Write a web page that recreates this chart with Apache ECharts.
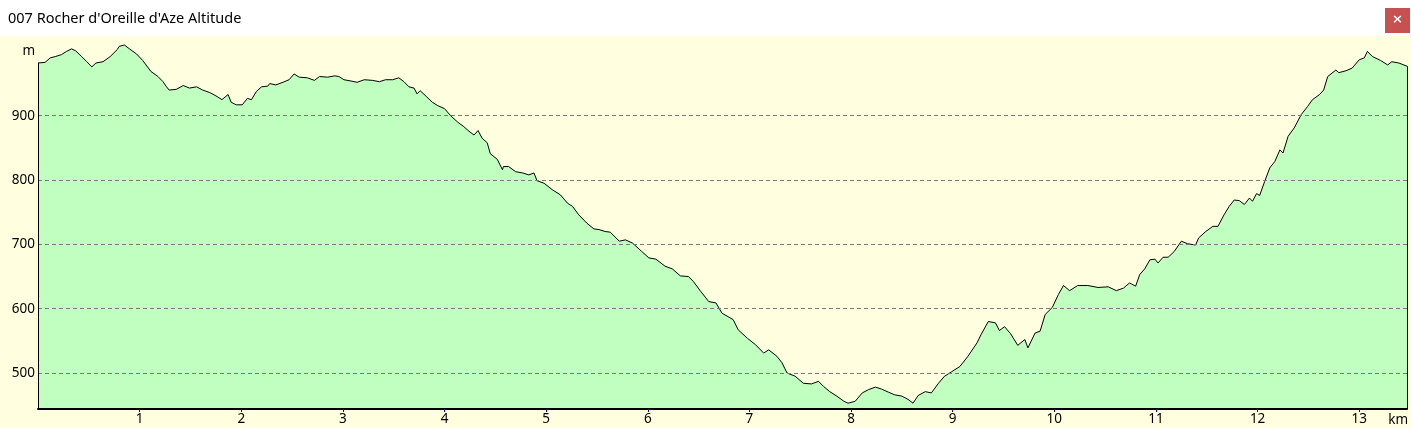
<!DOCTYPE html>
<html>
<head>
<meta charset="utf-8">
<script src="https://cdn.jsdelivr.net/npm/echarts@6/dist/echarts.min.js"></script>
<style>
html,body{margin:0;padding:0;background:#ffffe0;overflow:hidden;}
#c{width:1411px;height:428px;}
</style>
</head>
<body>
<div id="c"></div>
<script>
const titleText = "007 Rocher d'Oreille d'Aze Altitude";
const xUnit = 'km';
const yUnit = 'm';

const distKm = [
  0.00,0.07,0.12,0.17,0.23,0.28,0.33,0.37,0.43,0.48,
  0.53,0.57,0.64,0.71,0.78,0.80,0.85,0.90,0.97,1.03,
  1.11,1.18,1.23,1.26,1.29,1.36,1.43,1.49,1.56,1.62,
  1.69,1.75,1.81,1.87,1.90,1.95,2.01,2.06,2.10,2.15,
  2.20,2.26,2.28,2.34,2.41,2.47,2.52,2.57,2.65,2.72,
  2.77,2.85,2.92,2.96,3.01,3.08,3.14,3.21,3.29,3.36,
  3.42,3.49,3.55,3.60,3.65,3.70,3.73,3.76,3.82,3.88,
  3.93,4.00,4.06,4.13,4.19,4.24,4.29,4.33,4.37,4.42,
  4.45,4.52,4.57,4.58,4.63,4.70,4.77,4.83,4.88,4.91,
  4.98,5.06,5.14,5.21,5.26,5.32,5.40,5.47,5.52,5.58,
  5.63,5.72,5.78,5.85,5.94,6.01,
  6.08,6.17,6.24,6.32,6.40,6.45,6.52,6.60,6.67,6.73,
  6.84,6.89,6.98,7.06,7.14,7.19,7.27,7.32,7.37,7.45,
  7.53,7.61,7.68,7.73,7.79,7.86,7.93,7.97,8.04,8.11,
  8.17,8.24,8.30,8.37,8.43,8.50,8.56,8.61,8.66,8.73,
  8.79,8.86,8.92,8.99,9.07,9.15,9.24,9.28,9.35,9.42,
  9.46,9.51,9.57,9.64,9.71,9.74,9.81,9.86,9.91,9.98,
  10.04,10.09,10.15,10.23,10.33,10.43,10.53,10.61,10.68,10.74,
  10.80,10.84,10.89,10.94,10.99,11.02,11.07,11.12,11.18,11.25,
  11.31,11.39,11.42,11.49,11.56,11.61,11.67,11.72,11.77,11.82,
  11.87,11.92,11.95,11.99,12.02,12.07,12.12,12.17,12.22,12.25,
  12.30,12.36,12.43,12.49,12.54,12.61,12.65,12.69,12.77,12.80,
  12.87,12.93,13.00,13.05,13.08,13.13,13.21,13.28,13.32,13.39,13.47
];

const elevM = [
  982,983,990,992,995,1000,1004,1001,992,984,
  976,982,984,992,1003,1008,1010,1004,996,986,
  969,961,953,946,940,941,947,943,945,940,
  936,931,925,933,921,917,917,927,925,938,
  945,946,950,948,952,956,965,960,959,955,
  961,960,962,961,956,954,952,956,955,953,
  956,956,959,953,945,943,934,939,930,921,
  916,911,900,890,883,876,870,877,865,858,
  841,832,816,821,821,813,811,808,811,799,
  795,785,777,764,759,746,733,724,723,720,
  719,705,707,702,689,679,
  677,666,662,651,650,642,627,611,609,593,
  583,567,554,544,531,536,526,516,500,495,
  484,483,487,479,471,464,456,453,456,469,
  474,478,475,470,466,464,459,453,465,471,
  469,484,495,502,510,526,547,560,580,578,
  566,572,561,543,552,539,562,565,591,602,
  622,636,628,636,636,633,634,628,632,640,
  635,653,662,676,677,671,680,680,689,705,
  701,699,710,720,728,728,746,759,769,768,
  762,772,767,779,776,798,819,829,847,842,
  868,881,902,914,925,933,940,961,971,967,
  970,974,987,990,1000,992,986,979,984,982,977
];

const xTickValues = [1,2,3,4,5,6,7,8,9,10,11,12,13];
const yGridValues = [500,600,700,800,900];
const yLabelValues = [500,600,700,800,900,1000];
const yUnitValue = 1000;

const yMin = 444, yMax = 1024;
const xMin = 0, xMax = 13.47;

const FONT = "'Noto Sans', 'DejaVu Sans', sans-serif";
const points = distKm.map((d, i) => [d, elevM[i]]);
const lastI = distKm.length - 1;

const chart = echarts.init(document.getElementById('c'), null, {renderer: 'canvas'});
chart.setOption({
  animation: false,
  backgroundColor: '#ffffe0',
  textStyle: {fontFamily: FONT},
  graphic: [
    {type: 'rect', shape: {x: 0, y: 0, width: 1411, height: 36}, style: {fill: '#ffffff'}, silent: true},
    {type: 'text', x: 8, y: 19, style: {text: titleText, fill: '#000', font: "14.5px 'Noto Sans', sans-serif", verticalAlign: 'middle', align: 'left'}, silent: true},
    {type: 'rect', shape: {x: 1385, y: 8, width: 25, height: 25}, style: {fill: '#c75050'}, silent: true},
    {type: 'text', x: 1397.5, y: 20, style: {text: '×', fill: '#fff', font: "bold 13px 'DejaVu Sans', sans-serif", align: 'center', verticalAlign: 'middle'}, silent: true}
  ],
  grid: {left: 38, right: 2, top: 36, bottom: 19, containLabel: false},
  xAxis: {
    type: 'value', min: xMin, max: xMax, z: 5,
    name: xUnit, nameLocation: 'end', nameGap: 1,
    nameTextStyle: {align: 'right', verticalAlign: 'top', padding: [4, 0, 0, 0], fontSize: 13.5, color: '#000', fontFamily: FONT},
    axisLine: {show: true, onZero: false, lineStyle: {color: '#000', width: 2}},
    axisTick: {show: true, customValues: xTickValues, length: 3, inside: false, lineStyle: {color: '#0000ff', width: 1}},
    axisLabel: {customValues: xTickValues, color: '#000', fontSize: 13.5, margin: 3, fontFamily: FONT},
    splitLine: {show: false}
  },
  yAxis: {
    type: 'value', min: yMin, max: yMax, z: 5,
    axisLine: {show: false},
    axisTick: {show: false, customValues: yGridValues},
    axisLabel: {customValues: yLabelValues, color: '#000', fontSize: 13.5, margin: 3, fontFamily: FONT,
      formatter: v => (v === yUnitValue ? yUnit : String(v))},
    splitLine: {show: true, lineStyle: {color: '#7a7a7a', width: 1, type: [4, 3]}}
  },
  series: [{
    type: 'line',
    data: points,
    symbol: 'none',
    silent: true,
    z: 2,
    lineStyle: {color: '#000', width: 1},
    areaStyle: {color: '#c0ffc0', opacity: 1, origin: 'start'},
    markLine: {
      silent: true, symbol: 'none', animation: false,
      label: {show: false},
      lineStyle: {color: '#000', width: 1, type: 'solid'},
      data: [
        [{coord: [distKm[0], yMin]}, {coord: [distKm[0], elevM[0]]}],
        [{coord: [distKm[lastI], yMin]}, {coord: [distKm[lastI], elevM[lastI]]}]
      ]
    }
  }]
});
</script>
</body>
</html>
